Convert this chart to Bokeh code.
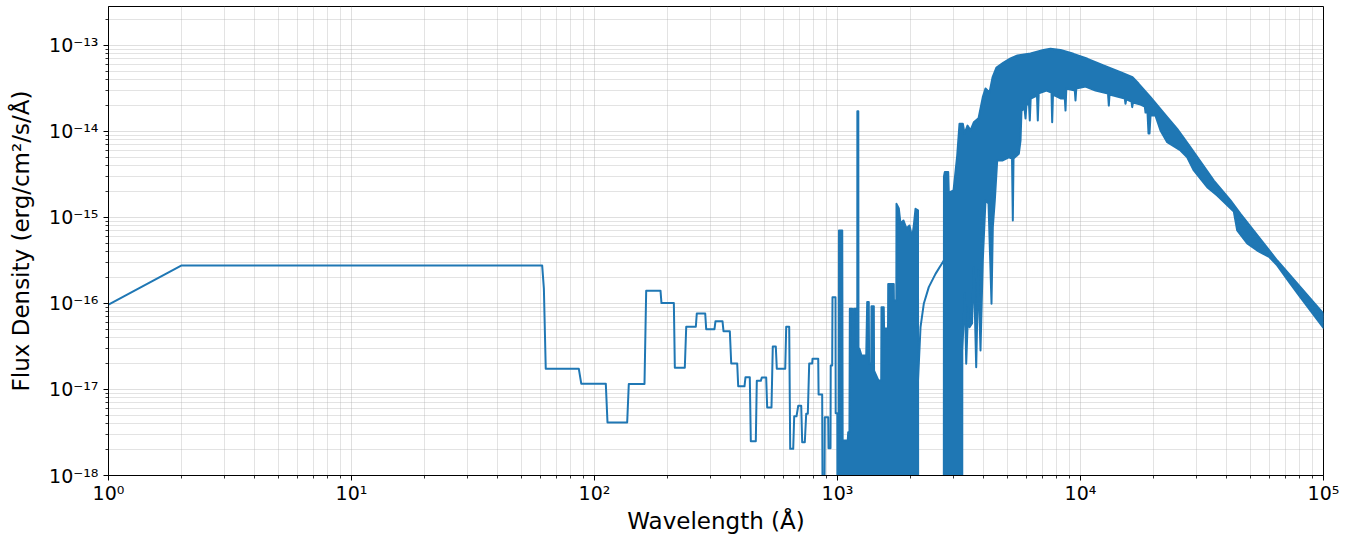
from bokeh.plotting import figure
from bokeh.models import Range1d, FixedTicker, CustomJSTickFormatter
from bokeh.embed import file_html
from bokeh.resources import INLINE

# ---------------- data ----------------
# binned part of the spectrum (step-like), wavelength in Angstrom, flux in erg/cm2/s/A
step_wave = [1.0, 2.0, 60.9, 61.9, 63.0, 86.2, 88.2, 111.3, 113.1, 136.3, 138.4, 160.6,
             163.2, 186.9, 188.6, 212.1, 214.1, 235.3, 238.5, 261.2, 263.6, 285.5, 288.2,
             311.7, 314.7, 336.3, 339.5, 360.5, 365.3, 386.6, 390.3, 414.3, 418.2, 435.6,
             439.8, 461.1, 465.5, 483.5, 488.1, 508.8, 513.6, 535.0, 541.6, 557.3, 562.6,
             609.4, 615.1, 632.8, 638.8, 657.3, 663.5, 678.2, 689.2, 709.0, 715.7, 733.6,
             743.4, 754.8, 764.8, 787.0, 789.1, 833.0, 836.0, 864.9, 869.6, 881.7, 886.6,
             915.6, 918.3, 935.9, 937.7, 951.0, 953.7, 981.2, 983.0, 998.0, 1000.0]
step_flux = [9.7e-17, 2.77e-16, 2.77e-16, 1.49e-16, 1.74e-17, 1.74e-17, 1.17e-17, 1.17e-17,
             4.13e-18, 4.13e-18, 1.16e-17, 1.16e-17, 1.41e-16, 1.41e-16, 1.01e-16, 1.01e-16,
             1.79e-17, 1.79e-17, 5.36e-17, 5.36e-17, 7.65e-17, 7.65e-17, 5.03e-17, 5.03e-17,
             6.23e-17, 6.23e-17, 4.76e-17, 4.76e-17, 2.01e-17, 2.01e-17, 1.09e-17, 1.09e-17,
             1.39e-17, 1.39e-17, 2.51e-18, 2.51e-18, 1.26e-17, 1.26e-17, 1.38e-17, 1.38e-17,
             6.18e-18, 6.18e-18, 3.16e-17, 3.16e-17, 1.74e-17, 1.74e-17, 5.36e-17, 5.36e-17,
             2.04e-18, 2.04e-18, 4.89e-18, 4.89e-18, 6.46e-18, 6.46e-18, 2.44e-18, 2.44e-18,
             5.22e-18, 5.22e-18, 2.01e-17, 2.01e-17, 2.28e-17, 2.28e-17, 8.75e-18, 8.75e-18,
             1e-19, 1e-19, 4.76e-18, 4.76e-18, 2.08e-18, 2.08e-18, 1.9e-17, 1.9e-17,
             1.18e-16, 1.18e-16, 5.3e-18, 5.3e-18, 1e-19]

# densely sampled far-UV block (upper envelope; lower edge lies below 1e-18)
uv_wave = [1010, 1014, 1046, 1050, 1102, 1107, 1120, 1124, 1149, 1153, 1167, 1169, 1194,
           1197, 1206, 1207, 1218, 1220, 1230, 1255, 1313, 1325, 1345, 1349, 1376, 1380,
           1411, 1414, 1475, 1513, 1517, 1550, 1555, 1614, 1617, 1704, 1707, 1746, 1749,
           1788, 1817, 1869, 1923, 1978, 2030, 2061, 2094, 2144, 2148]
uv_top = [1e-19, 7.06e-16, 7.06e-16, 2.55e-18, 2.55e-18, 3.19e-18, 3.19e-18, 8.67e-17,
          8.67e-17, 3.10e-17, 3.10e-17, 8.67e-17, 8.67e-17, 3.72e-17, 3.72e-17, 1.72e-14,
          1.72e-14, 3.0e-17, 3.0e-17, 2.48e-17, 2.48e-17, 1.04e-16, 1.04e-16, 2.01e-17,
          2.01e-17, 9.3e-17, 9.3e-17, 1.66e-17, 1.27e-17, 1.27e-17, 9.06e-17, 9.06e-17,
          5.12e-17, 5.12e-17, 1.69e-16, 1.69e-16, 1.08e-16, 1.08e-16, 1.44e-15, 1.27e-15,
          8.51e-16, 9.22e-16, 7.45e-16, 8.07e-16, 5.85e-16, 8.07e-16, 1.26e-15, 1.21e-15, 1e-19]

# smooth gap segment
gap_wave = [2134, 2161, 2196, 2265, 2375, 2531, 2738]
gap_flux = [9.7e-18, 1.99e-17, 5.3e-17, 9.92e-17, 1.55e-16, 2.21e-16, 3.16e-16]

# dense optical / IR block: upper and lower envelopes
opt_top_wave = [2738, 2742, 2764, 2855, 2871, 3002, 3109, 3177, 3279, 3333, 3428, 3526, 3638,
                3804, 3962, 4065, 4223, 4345, 4512, 4822, 5152, 5505, 6226, 7041, 7523, 8276,
                9356, 10686, 12434, 14606, 16368, 17327, 19414, 22743, 24998, 28356, 35375,
                41429, 45539, 64478, 100000]
opt_top_flux = [1e-19, 3.0e-15, 3.37e-15, 3.37e-15, 1.95e-15, 2.06e-15, 5.26e-15, 1.23e-14,
                1.23e-14, 9.49e-15, 1.17e-14, 1.03e-14, 1.28e-14, 1.42e-14, 2.51e-14, 3.16e-14,
                2.84e-14, 4.25e-14, 5.55e-14, 6.34e-14, 7.06e-14, 7.66e-14, 8.07e-14, 8.87e-14,
                9.16e-14, 8.87e-14, 8.0e-14, 7.0e-14, 5.85e-14, 4.9e-14, 4.28e-14, 3.61e-14,
                2.51e-14, 1.47e-14, 1.07e-14, 6.56e-15, 2.69e-15, 1.58e-15, 1.10e-15, 3.16e-16,
                7.59e-17]
opt_bot_wave = [2738, 3261, 3263, 3342, 3386, 3451, 3494, 3577, 3638, 3722, 3793, 3877, 3962,
                4065, 4183, 4303, 4357, 4440, 4542, 4764, 5070, 5226, 5266, 5301, 5574, 5665,
                5718, 5883, 5939, 5995, 6139, 6185, 6238, 6622, 6673, 6730, 7245, 7596, 7646,
                7705, 8276, 8617, 8677, 8743, 9474, 9537, 9609, 10485, 11527, 12978, 13078,
                13164, 15215, 15316, 15432, 16214, 16323, 16444, 17659, 18393, 18516, 18867,
                19047, 19231, 19414, 20351, 21339, 22743, 25796, 27484, 29265, 33220, 36521,
                42747, 44151, 48529, 53360, 59948, 64478, 73139, 80404, 100000]
opt_bot_flux = [1e-19, 1e-19, 2.84e-17, 1.30e-16, 1.99e-17, 9.06e-17, 5.3e-17, 5.85e-17,
                2.64e-16, 1.82e-17, 2.42e-16, 2.84e-17, 3.16e-16, 1.58e-15, 1.45e-15, 9.92e-17,
                7.71e-16, 1.58e-15, 4.60e-15, 4.60e-15, 5.02e-15, 4.85e-15, 9.22e-16, 4.85e-15,
                5.51e-15, 7.85e-15, 1.75e-14, 1.85e-14, 1.42e-14, 2.06e-14, 2.06e-14, 1.34e-14,
                2.42e-14, 2.62e-14, 1.34e-14, 2.77e-14, 3.0e-14, 2.84e-14, 1.28e-14, 2.69e-14,
                2.42e-14, 2.42e-14, 1.75e-14, 3.16e-14, 3.0e-14, 2.29e-14, 3.16e-14, 3.33e-14,
                3.0e-14, 2.77e-14, 2.0e-14, 2.69e-14, 2.42e-14, 2.1e-14, 2.36e-14, 2.23e-14,
                1.92e-14, 2.17e-14, 2.06e-14, 1.95e-14, 1.66e-14, 1.66e-14, 9.49e-15, 9.49e-15,
                1.53e-14, 1.53e-14, 1.03e-14, 7.51e-15, 6.01e-15, 5.02e-15, 3.52e-15, 2.25e-15,
                1.80e-15, 1.17e-15, 7.06e-16, 4.99e-16, 4.13e-16, 3.45e-16, 2.77e-16, 1.69e-16,
                1.18e-16, 5.2e-17]

x_major = [1, 10, 100, 1000, 10000, 100000]
y_major = [1e-18, 1e-17, 1e-16, 1e-15, 1e-14, 1e-13]
x_limits = (1, 1e5)
y_limits = (1e-18, 2.84e-13)
x_title = "Wavelength (Å)"
y_title = "Flux Density (erg/cm²/s/Å)"

# ---------------- figure ----------------
COLOR = "#1f77b4"
FONT = "DejaVu Sans"

p = figure(width=1351, height=537, x_axis_type="log", y_axis_type="log",
           x_range=Range1d(*x_limits), y_range=Range1d(*y_limits),
           output_backend="svg", toolbar_location=None,
           min_border_left=108, min_border_right=28, min_border_top=6, min_border_bottom=62)

p.background_fill_color = "white"
p.border_fill_color = "white"
p.outline_line_color = "black"
p.outline_line_width = 1

x_minor = [k * d for d in x_major[:-1] for k in range(2, 10)]
y_minor = [k * d for d in y_major for k in range(2, 10)]

p.xaxis.ticker = FixedTicker(ticks=x_major, minor_ticks=x_minor)
p.yaxis.ticker = FixedTicker(ticks=y_major, minor_ticks=y_minor)

fmt_code = """
const e = Math.round(Math.log10(tick));
const m = {"0":"\u2070","1":"\u00b9","2":"\u00b2","3":"\u00b3","4":"\u2074","5":"\u2075",
           "6":"\u2076","7":"\u2077","8":"\u2078","9":"\u2079","-":"\u207b"};
return "10" + String(e).split("").map(c => m[c]).join("");
"""
p.xaxis.formatter = CustomJSTickFormatter(code=fmt_code)
p.yaxis.formatter = CustomJSTickFormatter(code=fmt_code)

for ax in (p.xaxis, p.yaxis):
    ax.axis_line_color = "black"
    ax.axis_line_width = 1
    ax.major_tick_line_color = "black"
    ax.minor_tick_line_color = "black"
    ax.major_tick_in = 0
    ax.major_tick_out = 5
    ax.minor_tick_in = 0
    ax.minor_tick_out = 3
    ax.major_tick_line_width = 1
    ax.minor_tick_line_width = 0.8
    ax.major_label_text_font = FONT
    ax.major_label_text_font_size = "19px"
    ax.major_label_text_color = "black"
    ax.axis_label_text_font = FONT
    ax.axis_label_text_font_size = "23px"
    ax.axis_label_text_font_style = "normal"
    ax.axis_label_text_color = "black"

p.xaxis.axis_label = x_title
p.yaxis.axis_label = y_title
p.xaxis.major_label_standoff = 1
p.xaxis.axis_label_standoff = 1
p.yaxis.major_label_standoff = 5
p.yaxis.axis_label_standoff = 12

for g in (p.xgrid, p.ygrid):
    g.grid_line_color = "#b0b0b0"
    g.grid_line_alpha = 0.4
    g.grid_line_width = 1
    g.minor_grid_line_color = "#b0b0b0"
    g.minor_grid_line_alpha = 0.35
    g.minor_grid_line_width = 1

# dense blocks drawn as filled outlines
p.patch(uv_wave, uv_top, fill_color=COLOR, line_color=COLOR, line_width=2, line_join="round")
p.patch(opt_top_wave + opt_bot_wave[::-1], opt_top_flux + opt_bot_flux[::-1],
        fill_color=COLOR, line_color=COLOR, line_width=2, line_join="round")
# binned part and smooth gap
p.line(step_wave, step_flux, line_color=COLOR, line_width=2, line_join="round")
p.line(gap_wave, gap_flux, line_color=COLOR, line_width=2, line_join="round")

open("out.html", "w", encoding="utf-8").write(file_html(p, INLINE))
